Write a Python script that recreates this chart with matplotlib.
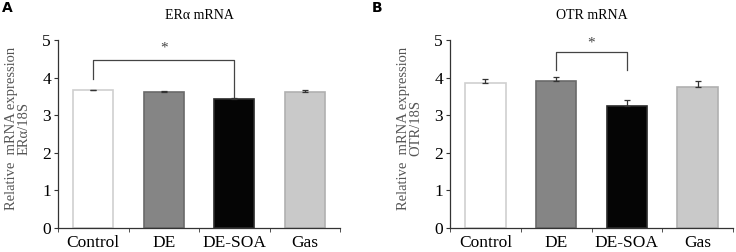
import matplotlib.pyplot as plt
import numpy as np

groups = ["Control", "DE", "DE-SOA", "Gas"]

era_mean = [3.66, 3.63, 3.42, 3.61]
era_err = [0.02, 0.02, 0.03, 0.06]

otr_mean = [3.85, 3.90, 3.25, 3.76]
otr_err = [0.12, 0.12, 0.16, 0.14]

bar_faces = ["#ffffff", "#858585", "#050505", "#c9c9c9"]
bar_edges = ["#cfcfcf", "#6a6a6a", "#2a2a2a", "#b0b0b0"]

plt.rcParams['font.family'] = ['Liberation Serif', 'DejaVu Serif']

fig = plt.figure(figsize=(7.36, 2.52), dpi=100)
axA = fig.add_axes([58 / 736, 1 - 228 / 252, 282 / 736, 188 / 252])
axB = fig.add_axes([450 / 736, 1 - 228 / 252, 283 / 736, 188 / 252])


def draw_panel(ax, means, errs, title, gene, bracket):
  x = np.arange(len(groups))
  ax.bar(x, means, width=0.57, color=bar_faces, edgecolor=bar_edges, linewidth=1.2, zorder=2)
  ax.errorbar(x, means, yerr=[np.zeros(len(errs)), errs], fmt="none",
              ecolor="#333333", elinewidth=0.9, capsize=2.5, capthick=0.9, zorder=3)
  ax.set_xlim(-0.5, 3.5)
  ax.set_ylim(0, 5)
  ax.set_yticks(range(6))
  ax.set_xticks(x)
  ax.set_xticklabels(groups, fontsize=12.5)
  ax.set_xticks(np.arange(-0.5, 4.0, 1.0), minor=True)
  ax.tick_params(axis="x", which="major", length=0, pad=5)
  ax.tick_params(axis="x", which="minor", length=3, direction="out", color="#333333")
  ax.tick_params(axis="y", length=3, direction="out", labelsize=12.5, pad=2, color="#333333")
  for s in ["top", "right"]:
    ax.spines[s].set_visible(False)
  for s in ["left", "bottom"]:
    ax.spines[s].set_color("#333333")
    ax.spines[s].set_linewidth(0.9)
  ax.set_ylabel("Relative  mRNA expression\n" + gene, fontsize=10.5, color="#555555",
                linespacing=1.0)
  ax.yaxis.set_label_coords(-0.096, 0.53)
  ax.set_title(title, fontsize=10, pad=15)

  i, j, y_left, y_top, y_right, y_star = bracket
  ax.plot([i, i, j, j], [y_left, y_top, y_top, y_right], color="#444444", lw=0.9, clip_on=False)
  ax.text((i + j) / 2, y_star, "*", ha="center", va="center", fontsize=11, color="#444444")


draw_panel(axA, era_mean, era_err, "ERα mRNA", "ERα/18S", (0, 2, 3.95, 4.48, 3.49, 4.78))
draw_panel(axB, otr_mean, otr_err, "OTR mRNA", "OTR/18S", (1, 2, 4.2, 4.69, 4.2, 4.93))

fig.text(2 / 736, 1 - 8 / 252, "A", fontsize=10, fontweight="bold", family="DejaVu Sans",
         ha="left", va="center")
fig.text(372 / 736, 1 - 8 / 252, "B", fontsize=10, fontweight="bold", family="DejaVu Sans",
         ha="left", va="center")

fig.savefig("out.png", dpi=100)
